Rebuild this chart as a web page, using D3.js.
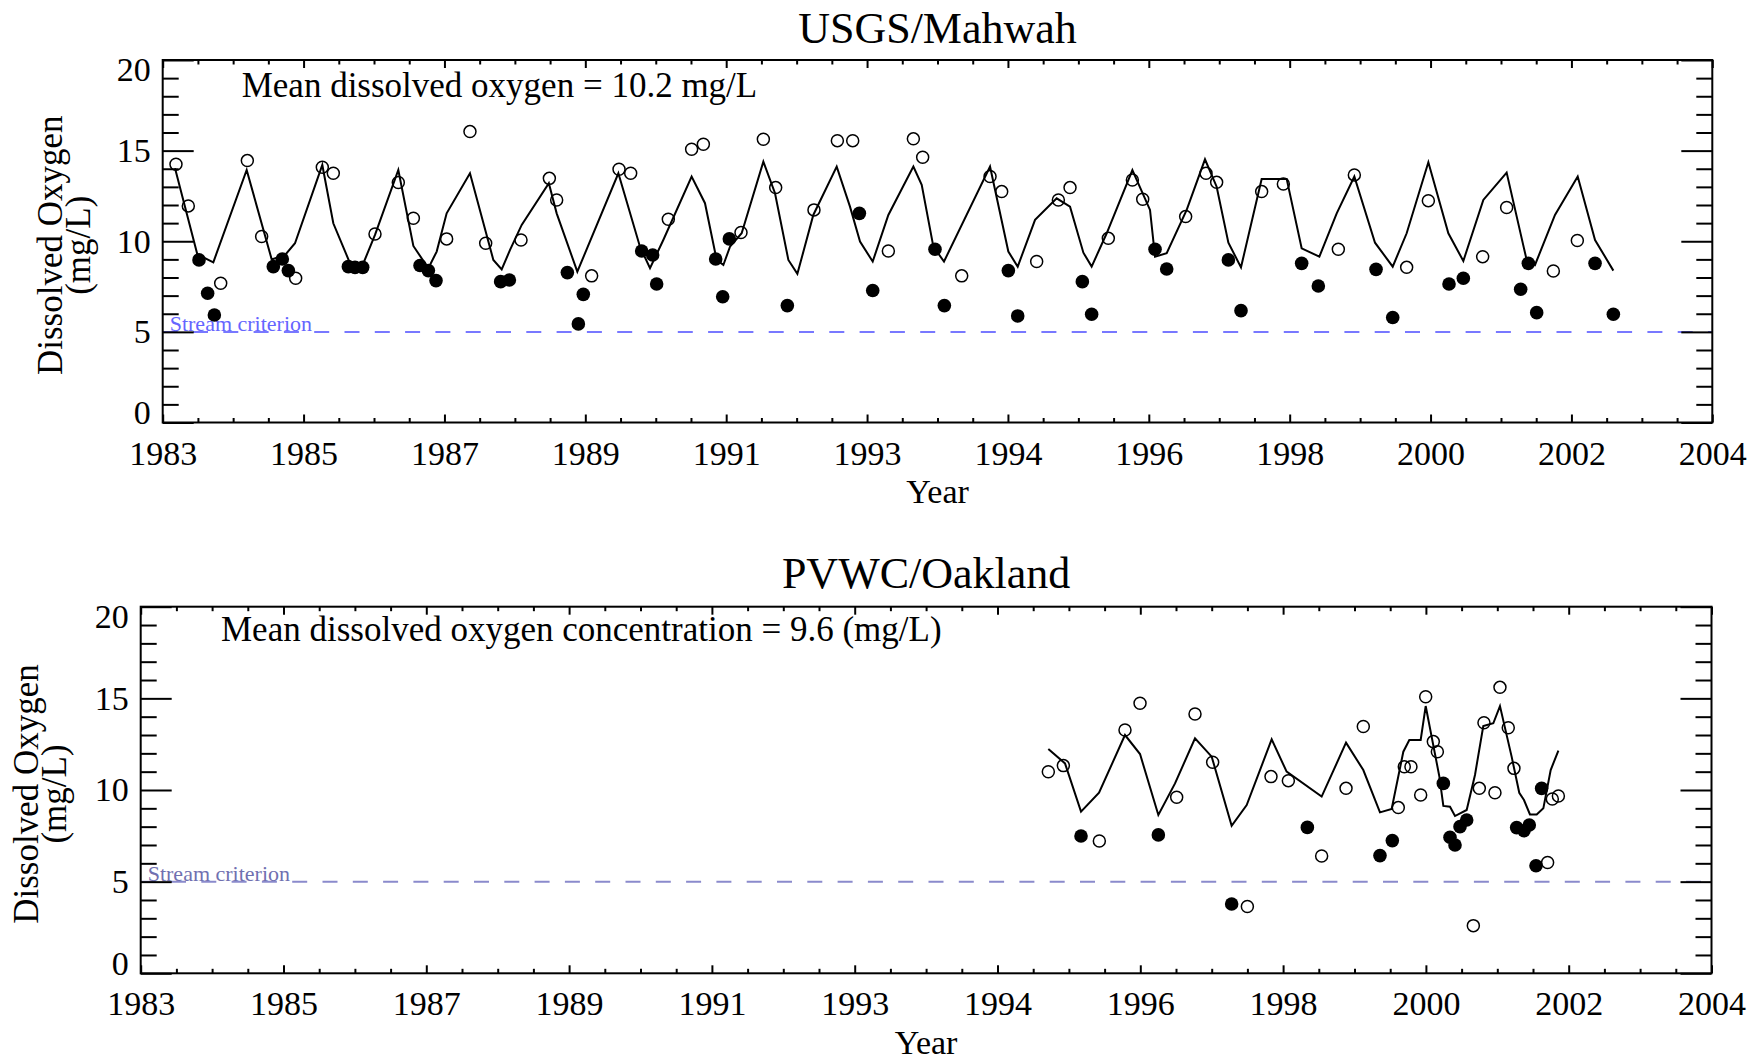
<!DOCTYPE html>
<html>
<head>
<meta charset="UTF-8">
<style>
  body { margin: 0; background: #fff; }
  svg text { font-family: "Liberation Serif", "Times New Roman", serif; fill: #000; }
</style>
</head>
<body>
<svg></svg>
<script src="https://d3js.org/d3.v7.min.js"></script>
<script>

let width = 1752, height = 1062;

// x axis runs 1983..2004 in 11 equal steps, labels as printed on the plot
let yearLabels = ["1983", "1985", "1987", "1989", "1991", "1993", "1994", "1996", "1998", "2000", "2002", "2004"];
let yMajor = [0, 5, 10, 15, 20];
let criterion = 5;

// USGS/Mahwah: [year, mg/L]
let usgsLine = [[1983.167,14.03],[1983.469,9.28],[1983.686,8.84],[1984.138,13.93],[1984.477,9.00],[1984.657,9.24],[1984.793,9.89],[1985.163,14.21],[1985.312,10.99],[1985.529,8.88],[1985.710,8.69],[1985.877,10.35],[1986.193,13.93],[1986.397,9.74],[1986.600,8.51],[1986.713,9.43],[1986.848,11.54],[1987.164,13.75],[1987.481,8.97],[1987.594,8.45],[1987.707,9.52],[1987.865,10.90],[1988.233,13.20],[1988.339,11.54],[1988.619,8.32],[1989.175,13.75],[1989.468,9.70],[1989.604,8.51],[1989.784,10.07],[1990.168,13.57],[1990.349,12.10],[1990.507,8.97],[1990.598,8.69],[1990.688,9.70],[1990.846,10.44],[1991.140,14.39],[1991.298,12.65],[1991.479,8.97],[1991.601,8.20],[1991.817,11.45],[1992.134,14.12],[1992.314,11.91],[1992.450,9.98],[1992.622,8.88],[1992.834,11.45],[1993.173,14.12],[1993.286,13.11],[1993.444,9.70],[1993.588,8.88],[1994.212,14.12],[1994.460,9.43],[1994.587,8.60],[1994.822,11.18],[1995.115,12.37],[1995.296,11.91],[1995.477,9.37],[1995.589,8.60],[1995.793,10.44],[1996.141,13.93],[1996.380,11.73],[1996.448,9.15],[1996.606,9.34],[1996.877,11.73],[1997.125,14.52],[1997.283,13.01],[1997.442,9.92],[1997.613,8.56],[1997.893,13.44],[1998.232,13.44],[1998.435,9.61],[1998.675,9.15],[1998.910,11.54],[1999.149,13.57],[1999.429,9.92],[1999.669,8.60],[1999.858,10.44],[2000.152,14.36],[2000.423,10.44],[2000.626,8.91],[2000.897,12.28],[2001.213,13.79],[2001.484,8.97],[2001.597,8.69],[2001.868,11.45],[2002.176,13.57],[2002.411,10.07],[2002.659,8.38]];

let usgsOpen = [[1983.180,14.25],[1983.347,11.95],[1983.786,7.68],[1984.147,14.45],[1984.341,10.26],[1984.802,7.96],[1985.163,14.08],[1985.312,13.75],[1985.877,10.40],[1986.193,13.24],[1986.397,11.27],[1986.848,10.13],[1987.164,16.05],[1987.377,9.89],[1987.856,10.07],[1988.240,13.47],[1988.339,12.28],[1988.813,8.09],[1989.184,13.97],[1989.342,13.75],[1989.852,11.21],[1990.168,15.08],[1990.327,15.35],[1990.837,10.48],[1991.140,15.63],[1991.307,12.96],[1991.826,11.73],[1992.143,15.55],[1992.351,15.55],[1992.834,9.46],[1993.173,15.65],[1993.299,14.63],[1993.828,8.09],[1994.212,13.57],[1994.370,12.74],[1994.844,8.88],[1995.138,12.28],[1995.296,12.96],[1995.815,10.16],[1996.141,13.38],[1996.281,12.32],[1996.863,11.36],[1997.139,13.75],[1997.283,13.25],[1997.893,12.74],[1998.187,13.16],[1998.932,9.56],[1999.149,13.66],[1999.858,8.56],[2000.152,12.24],[2000.888,9.15],[2001.213,11.86],[2001.846,8.36],[2002.171,10.04]];

let usgsFilled = [[1983.492,8.97],[1983.609,7.13],[1983.700,5.93],[1984.499,8.60],[1984.621,9.02],[1984.703,8.38],[1985.516,8.60],[1985.606,8.56],[1985.710,8.56],[1986.487,8.66],[1986.600,8.38],[1986.704,7.83],[1987.580,7.77],[1987.698,7.86],[1988.484,8.27],[1988.633,5.44],[1988.700,7.07],[1989.491,9.46],[1989.640,9.24],[1989.694,7.64],[1990.494,9.02],[1990.589,6.94],[1990.679,10.13],[1991.465,6.45],[1992.441,11.54],[1992.622,7.28],[1993.466,9.56],[1993.593,6.45],[1994.460,8.38],[1994.587,5.88],[1995.463,7.77],[1995.589,5.97],[1996.448,9.56],[1996.606,8.47],[1997.442,8.97],[1997.613,6.17],[1998.435,8.78],[1998.661,7.53],[1999.443,8.45],[1999.669,5.79],[2000.432,7.64],[2000.626,7.96],[2001.403,7.35],[2001.507,8.78],[2001.620,6.06],[2002.411,8.78],[2002.659,5.97]];

// PVWC/Oakland
let pvwcLine = [[1995.134,12.24],[1995.357,11.45],[1995.571,8.82],[1995.812,9.85],[1996.159,13.00],[1996.360,11.96],[1996.605,8.64],[1996.828,10.36],[1997.095,12.82],[1997.318,11.82],[1997.585,8.05],[1997.786,9.18],[1998.120,12.76],[1998.320,11.00],[1998.788,9.64],[1999.114,12.58],[1999.345,11.09],[1999.568,8.78],[1999.724,8.96],[1999.880,12.09],[1999.960,12.73],[2000.112,12.73],[2000.179,14.58],[2000.362,10.73],[2000.415,9.13],[2000.504,9.09],[2000.571,8.58],[2000.727,8.91],[2000.838,10.82],[2000.949,13.49],[2001.083,13.64],[2001.172,14.58],[2001.328,11.82],[2001.430,9.85],[2001.493,9.45],[2001.573,8.67],[2001.663,8.67],[2001.752,9.00],[2001.850,11.09],[2001.953,12.15]];

let pvwcOpen = [[1995.134,11.00],[1995.335,11.33],[1995.816,7.22],[1996.159,13.27],[1996.360,14.73],[1996.850,9.60],[1997.095,14.15],[1997.331,11.51],[1997.795,3.64],[1998.111,10.73],[1998.343,10.51],[1998.788,6.40],[1999.114,10.09],[1999.345,13.46],[1999.813,9.04],[1999.893,11.27],[1999.982,11.27],[2000.112,9.73],[2000.179,15.09],[2000.281,12.64],[2000.335,12.09],[2000.816,2.60],[2000.896,10.09],[2000.958,13.67],[2001.105,9.85],[2001.172,15.60],[2001.283,13.40],[2001.359,11.18],[2001.809,6.04],[2001.872,9.51],[2001.953,9.67]];

let pvwcFilled = [[1995.571,7.49],[1996.605,7.55],[1997.585,3.78],[1998.597,7.96],[1999.568,6.42],[1999.733,7.24],[2000.415,10.36],[2000.504,7.42],[2000.571,7.00],[2000.638,8.00],[2000.727,8.36],[2001.395,7.95],[2001.493,7.78],[2001.564,8.09],[2001.654,5.87],[2001.729,10.09]];

let svg = d3.select("svg")
    .attr("width", width)
    .attr("height", height)
    .attr("viewBox", "0 0 " + width + " " + height);

function tickAxis(g, axis, values, size, tx, ty, labels) {
  let a = g.append("g")
      .attr("transform", "translate(" + tx + "," + ty + ")")
      .call(axis.tickValues(values).tickSize(size)
        .tickFormat(labels ? (d, i) => labels[i] : ""));
  a.select(".domain").remove();
  a.selectAll("line").attr("stroke", "#000").attr("stroke-width", 2);
  a.attr("font-family", null).attr("font-size", 34);
  return a;
}

function drawPanel(p) {
  let x = d3.scaleLinear().domain([1983, 2004]).range([p.left, p.right]);
  let y = d3.scaleLinear().domain([0, 20]).range([p.bottom, p.top]);
  let g = svg.append("g");

  let n = yearLabels.length - 1;
  let xMajor = yearLabels.map((d, i) => 1983 + i * 21 / n);
  let xMinor = d3.range(0, n * 4 + 1).filter(i => i % 4 != 0).map(i => 1983 + i * 21 / (n * 4));
  let yMinor = d3.range(0, 21).filter(d => d % 5 != 0);

  // stream criterion
  g.append("line")
    .attr("x1", x(1983)).attr("x2", x(2004))
    .attr("y1", y(criterion)).attr("y2", y(criterion))
    .attr("stroke", p.critColor)
    .attr("stroke-width", 2)
    .attr("stroke-dasharray", "15 15.3");
  g.append("text")
    .attr("x", p.left + 7)
    .attr("y", y(criterion) - 1)
    .attr("font-size", 22)
    .style("fill", p.critText)
    .text("Stream criterion");

  // model line
  g.append("path")
    .datum(p.line)
    .attr("d", d3.line().x(d => x(d[0])).y(d => y(d[1])))
    .attr("fill", "none")
    .attr("stroke", "#000")
    .attr("stroke-width", 2);

  g.append("g").selectAll("circle")
    .data(p.open)
    .enter()
    .append("circle")
    .attr("cx", d => x(d[0]))
    .attr("cy", d => y(d[1]))
    .attr("r", 6)
    .attr("fill", "none")
    .attr("stroke", "#000")
    .attr("stroke-width", 1.5);

  g.append("g").selectAll("circle")
    .data(p.filled)
    .enter()
    .append("circle")
    .attr("cx", d => x(d[0]))
    .attr("cy", d => y(d[1]))
    .attr("r", 6.8)
    .attr("fill", "#000");

  // axes, ticks point inwards
  let xb = tickAxis(g, d3.axisBottom(x), xMajor, -8, 0, p.bottom, yearLabels);
  xb.selectAll("text").attr("y", 42).attr("dy", null);
  tickAxis(g, d3.axisBottom(x), xMinor, -4.5, 0, p.bottom);
  tickAxis(g, d3.axisTop(x), xMajor, -8, 0, p.top);
  tickAxis(g, d3.axisTop(x), xMinor, -4.5, 0, p.top);

  let yl = tickAxis(g, d3.axisLeft(y), yMajor, -31, p.left, 0, yMajor.map(String));
  yl.selectAll("text").attr("x", -12)
    .attr("y", d => d == 0 ? -10 : (d == 20 ? 10 : 0));
  tickAxis(g, d3.axisLeft(y), yMinor, -16, p.left, 0);
  tickAxis(g, d3.axisRight(y), yMajor, -31, p.right, 0);
  tickAxis(g, d3.axisRight(y), yMinor, -16, p.right, 0);

  g.append("rect")
    .attr("x", p.left).attr("y", p.top)
    .attr("width", p.right - p.left)
    .attr("height", p.bottom - p.top)
    .attr("fill", "none")
    .attr("stroke", "#000")
    .attr("stroke-width", 2);

  // texts
  let cx = (p.left + p.right) / 2;
  g.append("text")
    .attr("x", cx).attr("y", p.titleY)
    .attr("text-anchor", "middle")
    .attr("font-size", 44)
    .text(p.title);
  g.append("text")
    .attr("x", p.noteX).attr("y", p.noteY)
    .attr("font-size", 35)
    .text(p.note);
  g.append("text")
    .attr("x", cx).attr("y", p.yearY)
    .attr("text-anchor", "middle")
    .attr("font-size", 34)
    .text("Year");

  let cy = (p.top + p.bottom) / 2 + 4;
  g.append("text")
    .attr("transform", "translate(" + p.yt1 + "," + cy + ") rotate(-90)")
    .attr("text-anchor", "middle")
    .attr("font-size", 35)
    .text("Dissolved Oxygen");
  g.append("text")
    .attr("transform", "translate(" + p.yt2 + "," + cy + ") rotate(-90)")
    .attr("text-anchor", "middle")
    .attr("font-size", 35)
    .text("(mg/L)");
}

drawPanel({
  left: 162.7, right: 1712.3, top: 60, bottom: 422.5,
  line: usgsLine, open: usgsOpen, filled: usgsFilled,
  title: "USGS/Mahwah", titleY: 43,
  note: "Mean dissolved oxygen = 10.2 mg/L", noteX: 241.7, noteY: 96.7,
  yearY: 502.5, yt1: 62, yt2: 90,
  critColor: "#7878ff", critText: "#6565ff"
});

drawPanel({
  left: 140.7, right: 1711.5, top: 606.7, bottom: 973.3,
  line: pvwcLine, open: pvwcOpen, filled: pvwcFilled,
  title: "PVWC/Oakland", titleY: 588,
  note: "Mean dissolved oxygen concentration = 9.6 (mg/L)", noteX: 221, noteY: 641,
  yearY: 1054, yt1: 38, yt2: 66,
  critColor: "#8a8acc", critText: "#7070b0"
});

</script>
</body>
</html>
